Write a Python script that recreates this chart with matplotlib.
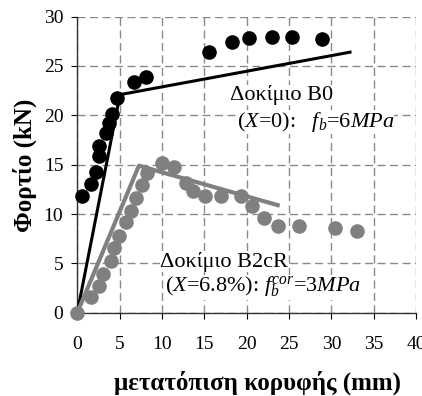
import matplotlib
matplotlib.use("Agg")
from matplotlib import pyplot as plt

plt.rcParams["font.family"] = ["Liberation Serif", "DejaVu Serif"]
plt.rcParams["mathtext.fontset"] = "custom"
plt.rcParams["mathtext.rm"] = "Liberation Serif"
plt.rcParams["mathtext.it"] = "Liberation Serif:italic"
plt.rcParams["axes.unicode_minus"] = False

# Δοκίμιο B0 - μετρήσεις
b0_x = [0.52, 1.58, 2.17, 2.56, 2.6, 3.35, 3.78, 4.06, 4.72, 6.7, 8.1,
        15.5, 18.3, 20.3, 22.95, 25.3, 28.9]
b0_y = [11.8, 13.0, 14.3, 15.9, 16.9, 18.2, 19.2, 20.1, 21.8, 23.4, 23.9,
        26.4, 27.4, 27.8, 27.9, 27.9, 27.7]
# διγραμμικό B0
b0_lin_x = [0, 5.05, 32.2]
b0_lin_y = [0, 22.1, 26.4]

# Δοκίμιο B2cR - μετρήσεις
b2_x = [0, 1.58, 2.56, 3.07, 3.94, 4.37, 4.92, 5.75, 6.34, 6.93, 7.6, 8.27,
        9.96, 11.45, 12.83, 13.7, 15.08, 17.0, 19.3, 20.6, 22.0, 23.7, 26.2,
        30.4, 33.0]
b2_y = [0, 1.65, 2.7, 3.95, 5.2, 6.55, 7.75, 9.15, 10.3, 11.65, 12.95, 14.2,
        15.15, 14.8, 13.1, 12.3, 11.8, 11.8, 11.8, 10.8, 9.6, 8.8, 8.8,
        8.6, 8.25]
# διγραμμικό B2cR
b2_lin_x = [0, 7.28, 23.9]
b2_lin_y = [0, 14.9, 10.85]

x_ticks = [0, 5, 10, 15, 20, 25, 30, 35, 40]
y_ticks = [0, 5, 10, 15, 20, 25, 30]

gray = "#808080"

fig = plt.figure(figsize=(4.22, 3.96), dpi=100)
ax = fig.add_axes([0.183, 0.210, 0.803, 0.748])

ax.scatter(b0_x, b0_y, s=90, color="black", zorder=3, clip_on=False)
ax.plot(b0_lin_x, b0_lin_y, color="black", lw=2.2, zorder=4)
ax.scatter(b2_x, b2_y, s=90, color=gray, zorder=5, clip_on=False)
ax.plot(b2_lin_x, b2_lin_y, color=gray, lw=3, zorder=6, solid_capstyle="butt")

ax.set_xlim(0, 40)
ax.set_ylim(0, 30)
ax.set_xticks(x_ticks)
ax.set_yticks(y_ticks)
ax.grid(True, color="#8a8a8a", ls=(0, (5.8, 3.2)), lw=1.0)
ax.set_axisbelow(True)
for s in ["top", "right"]:
    ax.spines[s].set_visible(False)
ax.spines["left"].set_linewidth(1.0)
ax.spines["bottom"].set_linewidth(1.0)
ax.spines["bottom"].set_color("#333333")
ax.spines["left"].set_color("#333333")
ax.tick_params(axis="x", direction="out", length=4, pad=13, labelsize=14)
ax.tick_params(axis="y", direction="out", length=4, pad=6, labelsize=14)

box = dict(facecolor="white", edgecolor="none", pad=0)
ax.text(18.0, 22.1, "Δοκίμιο B0", fontsize=16, va="center", bbox=box, zorder=2)
ax.text(18.85, 19.35, r"($X$=0):   $f_b$=$\mathit{6MPa}$", fontsize=16,
        va="center", bbox=box, zorder=2)
ax.text(9.76, 5.17, "Δοκίμιο B2cR", fontsize=16, va="center", bbox=box, zorder=2)
ax.text(10.35, 2.53, r"($X$=6.8%): $f_b^{\mathit{cor}}$=$\mathit{3MPa}$",
        fontsize=16, va="center", bbox=box, zorder=2)

fig.text(258 / 422, 1 - 383 / 396, "μετατόπιση κορυφής (mm)", fontsize=18,
         fontweight="bold", ha="center", va="center")
fig.text(25 / 422, 1 - 165 / 396, "Φορτίο (kN)", fontsize=18, fontweight="bold",
         ha="center", va="center", rotation=90)

fig.savefig("out.png", dpi=100)
